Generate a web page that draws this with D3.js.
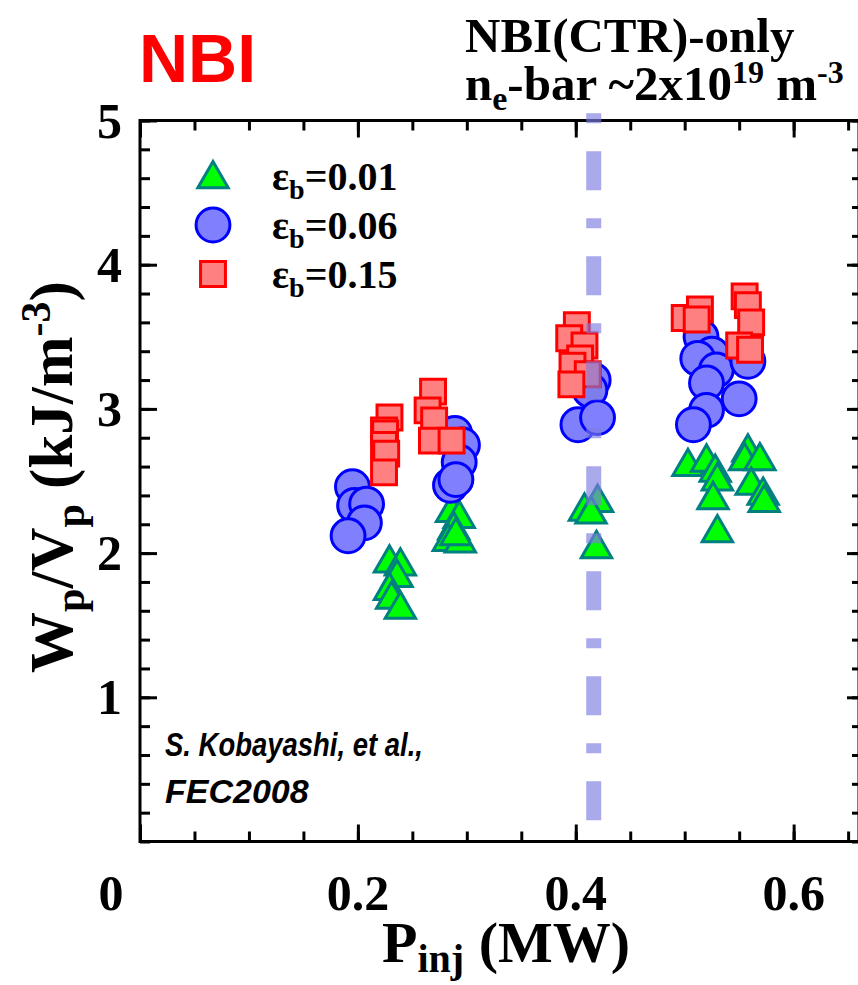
<!DOCTYPE html>
<html>
<head>
<meta charset="utf-8">
<script src="https://cdn.jsdelivr.net/npm/d3@7"></script>
<style>
  body { margin: 0; background: #fff; }
  svg text { font-family: "Liberation Serif", "Times New Roman", serif; font-weight: bold; }
</style>
</head>
<body>
<div class="canvas"></div>
<script>
// data: P_inj (MW) and Wp/Vp (kJ/m^3)
const eps001P = [0.229, 0.239, 0.236, 0.229, 0.231, 0.239,
                 0.286, 0.293, 0.288, 0.283, 0.294, 0.290,
                 0.408, 0.420, 0.414, 0.419,
                 0.503, 0.520, 0.528, 0.530, 0.526, 0.530, 0.558, 0.555, 0.569, 0.561, 0.572, 0.573];
const eps001W = [1.95, 1.93, 1.85, 1.76, 1.70, 1.63,
                 2.30, 2.26, 2.18, 2.10, 2.09, 2.14,
                 2.31, 2.37, 2.29, 2.05,
                 2.62, 2.65, 2.58, 2.52, 2.39, 2.16, 2.72, 2.66, 2.66, 2.49, 2.42, 2.37];

const eps006P = [0.195, 0.197, 0.208, 0.206, 0.191,
                 0.289, 0.296, 0.293, 0.285, 0.290,
                 0.416, 0.413, 0.402, 0.420,
                 0.515, 0.525, 0.512, 0.529, 0.520, 0.550, 0.520, 0.508, 0.558];
const eps006W = [2.46, 2.33, 2.34, 2.21, 2.12,
                 2.83, 2.75, 2.63, 2.47, 2.51,
                 3.20, 3.13, 2.89, 2.94,
                 3.50, 3.38, 3.35, 3.27, 3.18, 3.07, 2.99, 2.89, 3.33];

const eps015P = [0.229, 0.224, 0.225, 0.224, 0.226, 0.224,
                 0.269, 0.264, 0.270, 0.268, 0.286,
                 0.401, 0.394, 0.408, 0.404, 0.397, 0.411, 0.396,
                 0.500, 0.514, 0.511, 0.555, 0.558, 0.561, 0.550, 0.560];
const eps015W = [2.94, 2.85, 2.83, 2.75, 2.69, 2.56,
                 3.12, 2.99, 2.92, 2.78, 2.78,
                 3.58, 3.49, 3.44, 3.35, 3.30, 3.24, 3.17,
                 3.63, 3.69, 3.62, 3.78, 3.72, 3.60, 3.44, 3.41];

const legendLabels = ['0.01', '0.06', '0.15'];
const xTicks = [0, 0.2, 0.4, 0.6];
const yTicks = [1, 2, 3, 4, 5];
const dashP = 0.4165; // NBI(CTR) reference line

const width = 858, height = 985;
const svg = d3.select('.canvas').append('svg')
    .attr('width', width)
    .attr('height', height);

const xScale = d3.scaleLinear().domain([0, 0.66]).range([140, 859]);
const yScale = d3.scaleLinear().domain([0, 5]).range([841.5, 120.5]);

// frame
svg.append('rect')
    .attr('x', xScale(0)).attr('y', yScale(5))
    .attr('width', xScale(0.66) - xScale(0))
    .attr('height', yScale(0) - yScale(5))
    .attr('fill', 'none').attr('stroke', '#000').attr('stroke-width', 3);

// inward ticks on all four sides
const minorX = d3.range(0, 0.6501, 0.05);
const minorY = d3.range(0, 5.001, 0.2);
const tickGroup = (axis, tr) => svg.append('g').attr('transform', tr).call(axis)
    .call(g => g.select('.domain').remove())
    .call(g => g.selectAll('line').attr('stroke', '#000').attr('stroke-width', 3));

tickGroup(d3.axisBottom(xScale).tickValues(minorX).tickSize(-10).tickFormat(''), `translate(0,${yScale(0)})`);
tickGroup(d3.axisBottom(xScale).tickValues(xTicks).tickSize(-17).tickFormat(''), `translate(0,${yScale(0)})`);
tickGroup(d3.axisTop(xScale).tickValues(minorX).tickSize(-10).tickFormat(''), `translate(0,${yScale(5)})`);
tickGroup(d3.axisTop(xScale).tickValues(xTicks).tickSize(-17).tickFormat(''), `translate(0,${yScale(5)})`);
tickGroup(d3.axisLeft(yScale).tickValues(minorY).tickSize(-10).tickFormat(''), `translate(${xScale(0)},0)`);
tickGroup(d3.axisLeft(yScale).tickValues(yTicks).tickSize(-17).tickFormat(''), `translate(${xScale(0)},0)`);
tickGroup(d3.axisRight(yScale).tickValues(minorY).tickSize(-7).tickFormat(''), `translate(${xScale(0.66)},0)`);
tickGroup(d3.axisRight(yScale).tickValues(yTicks).tickSize(-12).tickFormat(''), `translate(${xScale(0.66)},0)`);

// tick labels
svg.append('g').selectAll('text')
    .data(xTicks).enter().append('text')
    .attr('x', d => d === 0 ? xScale(d) - 29 : xScale(d))
    .attr('y', 910)
    .attr('text-anchor', 'middle')
    .attr('font-size', 50)
    .text(d => d === 0 ? '0' : d.toFixed(1));

svg.append('g').selectAll('text')
    .data(yTicks).enter().append('text')
    .attr('x', 122)
    .attr('y', d => yScale(d))
    .attr('dy', '0.34em')
    .attr('text-anchor', 'end')
    .attr('font-size', 50)
    .text(d => d);

// markers
const triangle = d3.symbol().type(d3.symbolTriangle).size(400);
const circle = d3.symbol().type(d3.symbolCircle).size(900);
const square = d3.symbol().type(d3.symbolSquare).size(620);

const styles = [
    { sym: triangle, fill: '#00ff00', stroke: '#008080', P: eps001P, W: eps001W, dy: 3 },
    { sym: circle, fill: '#8080ff', stroke: '#0000ff', P: eps006P, W: eps006W, dy: 0 },
    { sym: square, fill: '#ff8080', stroke: '#ff0000', P: eps015P, W: eps015W, dy: 0 }
];

styles.forEach(s => {
    svg.append('g').selectAll('path')
        .data(s.P.map((p, i) => [p, s.W[i]]))
        .enter().append('path')
        .attr('d', s.sym)
        .attr('transform', d => `translate(${xScale(d[0])},${yScale(d[1]) + s.dy})`)
        .attr('fill', s.fill)
        .attr('stroke', s.stroke)
        .attr('stroke-width', 3)
        .attr('stroke-linejoin', 'miter');
});

// dash-dot reference line (drawn over the points)
svg.append('line')
    .attr('x1', xScale(dashP)).attr('x2', xScale(dashP))
    .attr('y1', yScale(5.05)).attr('y2', yScale(-0.045))
    .attr('stroke', '#7b7be0')
    .attr('stroke-opacity', 0.65)
    .attr('stroke-width', 15)
    .attr('stroke-dasharray', '10,28,39,28');

// legend
const legend = svg.append('g');
styles.forEach((s, i) => {
    const cy = 176 + i * 49;
    legend.append('path')
        .attr('d', s.sym)
        .attr('transform', `translate(213,${cy + s.dy})`)
        .attr('fill', s.fill).attr('stroke', s.stroke).attr('stroke-width', 3);
    const t = legend.append('text')
        .attr('x', 272).attr('y', cy + 14)
        .attr('font-size', 40);
    t.append('tspan').text('ε');
    t.append('tspan').attr('dy', 9).attr('font-size', 28).text('b');
    t.append('tspan').attr('dy', -9).text('=' + legendLabels[i]);
});

// axis titles
const xt = svg.append('text')
    .attr('x', 506).attr('y', 962)
    .attr('text-anchor', 'middle')
    .attr('font-size', 58);
xt.append('tspan').text('P');
xt.append('tspan').attr('dy', 10).attr('font-size', 40).text('inj');
xt.append('tspan').attr('dy', -10).text(' (MW)');

const yt = svg.append('text')
    .attr('transform', 'translate(72,477) rotate(-90)')
    .attr('text-anchor', 'middle')
    .attr('font-size', 61);
yt.append('tspan').text('W');
yt.append('tspan').attr('dy', 12).attr('font-size', 42).text('p');
yt.append('tspan').attr('dy', -12).text('/V');
yt.append('tspan').attr('dy', 12).attr('font-size', 42).text('p');
yt.append('tspan').attr('dy', -12).text(' (kJ/m');
yt.append('tspan').attr('dy', -22).attr('font-size', 42).text('-3');
yt.append('tspan').attr('dy', 22).text(')');

// headings
svg.append('text')
    .attr('x', 139).attr('y', 82)
    .attr('fill', '#ff0000')
    .attr('font-size', 68)
    .style('font-family', '"Liberation Sans", Arial, sans-serif')
    .text('NBI');

svg.append('text')
    .attr('x', 465).attr('y', 52)
    .attr('font-size', 49)
    .text('NBI(CTR)-only');

const t2 = svg.append('text')
    .attr('x', 465).attr('y', 100)
    .attr('font-size', 49);
t2.append('tspan').text('n');
t2.append('tspan').attr('dy', 10).attr('font-size', 34).text('e');
t2.append('tspan').attr('dy', -10).text('-bar ~2x10');
t2.append('tspan').attr('dy', -17).attr('font-size', 32).text('19');
t2.append('tspan').attr('dy', 17).text(' m');
t2.append('tspan').attr('dy', -17).attr('font-size', 32).text('-3');

// citation
const citeStyle = sel => sel
    .attr('font-size', 34)
    .style('font-family', '"Liberation Sans", Arial, sans-serif')
    .style('font-style', 'italic');
svg.append('text').call(citeStyle)
    .attr('x', 165).attr('y', 756)
    .attr('textLength', 258).attr('lengthAdjust', 'spacingAndGlyphs')
    .text('S. Kobayashi, et al.,');
svg.append('text').call(citeStyle)
    .attr('x', 165).attr('y', 803)
    .text('FEC2008');
</script>
</body>
</html>
